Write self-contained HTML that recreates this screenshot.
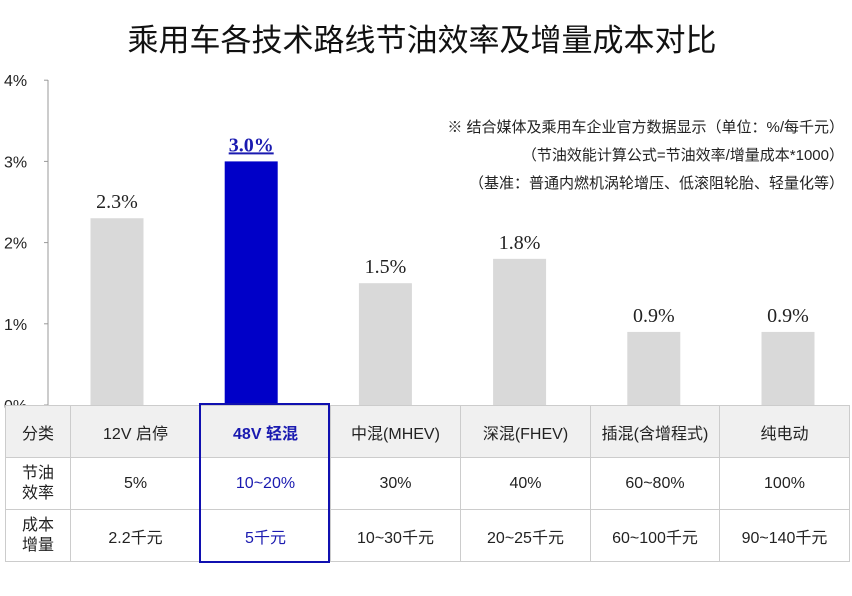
<!DOCTYPE html>
<html><head><meta charset="utf-8"><style>
body{margin:0;width:852px;height:596px;background:#fff;overflow:hidden;font-family:"Liberation Sans","Noto Sans CJK SC",sans-serif;position:relative}
#title{position:absolute;left:0;width:844px;top:15px;text-align:center;font-size:31px;color:#111}
.note{position:absolute;right:8px;font-size:15px;color:#222}
svg{position:absolute;left:0;top:0}
table{position:absolute;left:5px;top:405px;border-collapse:collapse;font-size:16px;color:#222}
td{border:1px solid #ccc;text-align:center;height:51px;padding:0}
tr.h td{background:#f0f0f0}
.sel{color:#1a1ab0}
#box{position:absolute;left:199px;top:403px;width:127px;height:156px;border:2px solid #1010b0}
</style></head><body>
<div id="title">乘用车各技术路线节油效率及增量成本对比</div>
<div class="note" style="top:116px">※ 结合媒体及乘用车企业官方数据显示（单位：%/每千元）</div>
<div class="note" style="top:144px">（节油效能计算公式=节油效率/增量成本*1000）</div>
<div class="note" style="top:172px">（基准：普通内燃机涡轮增压、低滚阻轮胎、轻量化等）</div>
<svg id="chart" width="852" height="596"></svg>
<table>
<tr class="h"><td style="width:64px">分类</td><td style="width:129px">12V 启停</td><td style="width:129px" class="sel"><b>48V 轻混</b></td><td style="width:129px">中混(MHEV)</td><td style="width:129px">深混(FHEV)</td><td style="width:128px">插混(含增程式)</td><td style="width:129px">纯电动</td></tr>
<tr><td style="line-height:20px">节油<br>效率</td><td>5%</td><td class="sel">10~20%</td><td>30%</td><td>40%</td><td>60~80%</td><td>100%</td></tr>
<tr><td style="line-height:20px">成本<br>增量</td><td>2.2千元</td><td class="sel">5千元</td><td>10~30千元</td><td>20~25千元</td><td>60~100千元</td><td>90~140千元</td></tr>
</table>
<div id="box"></div>
<script>
const categories=["12V 启停","48V 轻混","中混(MHEV)","深混(FHEV)","插混(含增程式)","纯电动"];
const values=[2.3,3.0,1.5,1.8,0.9,0.9];
const labels=["2.3%","3.0%","1.5%","1.8%","0.9%","0.9%"];
const ticks=[0,1,2,3,4];
const tickLabels=["0%","1%","2%","3%","4%"];
const NS="http://www.w3.org/2000/svg",svg=document.getElementById("chart");
const y=v=>405-v*81.2, x=i=>117+i*134.2;
function mk(t,a){const e=document.createElementNS(NS,t);for(const k in a)e.setAttribute(k,a[k]);svg.appendChild(e);return e;}
const ax=mk("line",{x1:48,y1:80,x2:48,y2:405,stroke:"#999"});


ticks.forEach((t,i)=>{
 const l=mk("line",{x1:44,x2:48,y1:y(t),y2:y(t),stroke:"#999"});
 
 
 const tx=mk("text",{x:4,y:y(t)+6,"font-size":16,fill:"#222","font-family":"Liberation Sans"});
 tx.textContent=tickLabels[i];
 
 
});
values.forEach((v,i)=>{
 const r=mk("rect",{x:x(i)-26.5,y:y(v),width:53,height:405-y(v),fill:i==1?"#0000c8":"#d9d9d9"});
 
 
 const t=mk("text",{x:x(i),y:y(v)-10,"text-anchor":"middle","font-size":20,"font-family":"Liberation Serif",fill:i==1?"#1a1ab0":"#222","font-weight":i==1?"bold":"normal","text-decoration":i==1?"underline":"none"});
 t.textContent=labels[i];
 
 
});
</script>
</body></html>
